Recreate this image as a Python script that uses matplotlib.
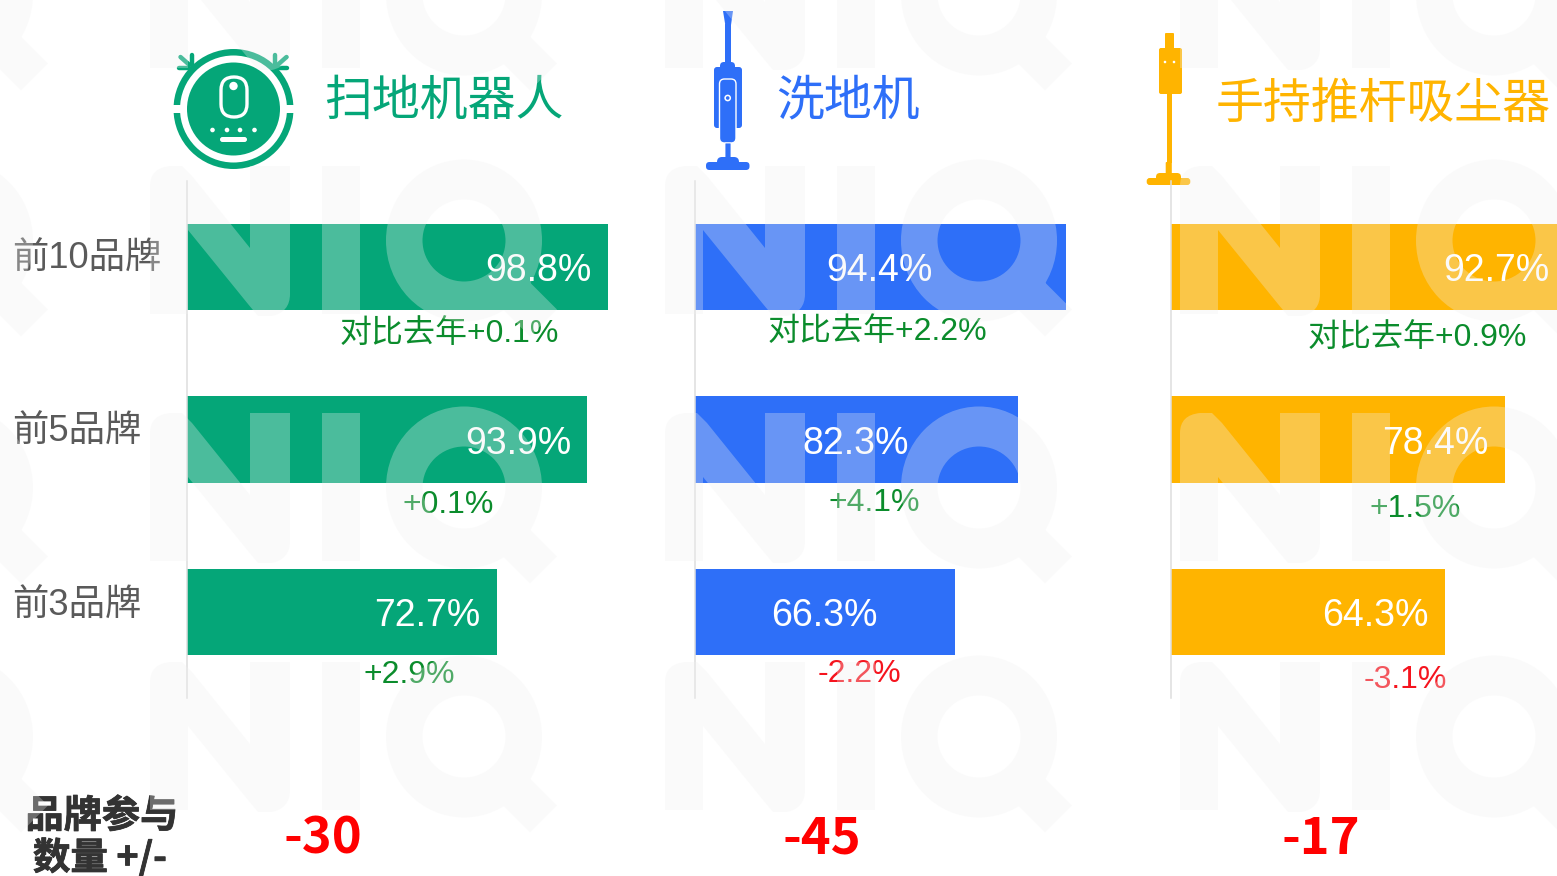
import matplotlib
matplotlib.use('Agg')
import matplotlib.pyplot as plt
import matplotlib.patheffects as pe
import numpy as np
from matplotlib.patches import Circle, FancyBboxPatch, PathPatch, Rectangle
from matplotlib.path import Path
from matplotlib.transforms import Affine2D

plt.rcParams['font.family'] = ['Liberation Sans', 'Noto Sans CJK SC', 'DejaVu Sans']

# data
categories = ['前10品牌', '前5品牌', '前3品牌']
products = ['扫地机器人', '洗地机', '手持推杆吸尘器']
robot_share = [98.8, 93.9, 72.7]
washer_share = [94.4, 82.3, 66.3]
stick_share = [92.7, 78.4, 64.3]
robot_delta = ['对比去年+0.1%', '+0.1%', '+2.9%']
washer_delta = ['对比去年+2.2%', '+4.1%', '-2.2%']
stick_delta = ['对比去年+0.9%', '+1.5%', '-3.1%']
brand_change = ['-30', '-45', '-17']

GREEN = '#05A678'
BLUE = '#2E6FF8'
YELLOW = '#FFB400'
UP = '#0B8C2C'
DOWN = '#F5141E'
W, H = 1557, 876

fig = plt.figure(figsize=(W / 100, H / 100), dpi=100, facecolor='white')

# full size axes in pixels, for icons
under = fig.add_axes([0, 0, 1, 1], zorder=0)
under.set_xlim(0, W)
under.set_ylim(H, 0)
under.axis('off')

# axes left, axes width, px per percent
panels = [(187, 440, 4.26), (695, 420, 3.925), (1171, 386, 4.26)]
shares = [robot_share, washer_share, stick_share]
colors = [GREEN, BLUE, YELLOW]
deltas = [robot_delta, washer_delta, stick_delta]
# where value labels end, px left of the bar end
label_gap = [[16, 16, 16], [133, 109, 78], [16, 16, 16]]
delta_x = [[449.5, 448, 409], [877, 874, 859], [1417, 1415, 1405]]
delta_y = [[335, 505, 675], [333, 503, 674], [339, 509, 680]]

for p, (x0, w, scale) in enumerate(panels):
    ax = fig.add_axes([x0 / W, 1 - 698 / H, w / W, 517 / H], zorder=1)
    ax.patch.set_alpha(0)
    ax.barh(range(3), shares[p], height=0.5, color=colors[p], linewidth=0)
    ax.set_xlim(0, w / scale)
    ax.set_ylim(2.5, -0.5)
    ax.set_xticks([])
    ax.set_yticks([])
    for s in ['top', 'right', 'bottom']:
        ax.spines[s].set_visible(False)
    ax.spines['left'].set_color('#DEDEDE')
    ax.spines['left'].set_linewidth(1.1)
    for i, v in enumerate(shares[p]):
        ax.annotate('{0:.1f}%'.format(v), xy=(v, i), xytext=(-label_gap[p][i], 0),
                    textcoords='offset pixels', ha='right', va='center_baseline',
                    color='white', fontsize=27, annotation_clip=False)
        delta_color = DOWN if deltas[p][i].startswith('-') else UP
        fig.text(delta_x[p][i] / W, 1 - delta_y[p][i] / H, deltas[p][i], ha='center',
                 va='center', color=delta_color, fontsize=23, zorder=5)

# left labels
for i, c in enumerate(categories):
    fig.text(12 / W, 1 - [259, 432, 606][i] / H, c, ha='left', va='center',
             color='#5A5A5A', fontsize=26.2)

# headers
fig.text(324 / W, 1 - 102 / H, products[0], color=GREEN, fontsize=34.5, ha='left', va='center')
fig.text(776 / W, 1 - 102 / H, products[1], color=BLUE, fontsize=34.5, ha='left', va='center')
fig.text(1216 / W, 1 - 105 / H, products[2], color=YELLOW, fontsize=34.5, ha='left', va='center')

# bottom row, the reference text is drawn heavier than plain bold
heavy = [pe.withStroke(linewidth=0.6, foreground='#333333')]
fig.text(102 / W, 1 - 816 / H, '品牌参与', family=['Noto Sans CJK SC'], weight='bold',
         color='#333333', fontsize=27.5, ha='center', va='center', path_effects=heavy)
fig.text(100 / W, 1 - 858 / H, '数量 +/-', family=['Noto Sans CJK SC'], weight='bold',
         color='#333333', fontsize=27, ha='center', va='center', path_effects=heavy)
for x, v in zip([323, 822, 1321], brand_change):
    fig.text(x / W, 1 - 839 / H, v, family=['Noto Sans CJK SC'], weight='bold',
             color='#FF0000', fontsize=36.5, ha='center', va='center')


def rbox(x0, y0, x1, y1, r, color, **kw):
    p = FancyBboxPatch((x0 + r, y0 + r), x1 - x0 - 2 * r, y1 - y0 - 2 * r,
                       boxstyle='round,pad={0},rounding_size={0}'.format(r),
                       facecolor=color, linewidth=kw.pop('lw', 0), **kw)
    under.add_patch(p)
    return p


# robot icon
cx, cy = 233.5, 109
under.add_patch(Circle((cx, cy), 60, color=GREEN, lw=0))
under.add_patch(Circle((cx, cy), 53.5, color='white', lw=0))
under.add_patch(Circle((cx, cy), 46.5, color=GREEN, lw=0))
under.add_patch(Rectangle((172, 105), 12, 8, color='white', lw=0))
under.add_patch(Rectangle((283, 105), 12, 8, color='white', lw=0))
rbox(221, 77, 247, 117, 13, 'none', edgecolor='white', lw=2.4)
under.add_patch(Circle((cx, 86), 4.2, color='white', lw=0))
for x in [212.5, 227, 240, 254.5]:
    under.add_patch(Circle((x, 130), 2.3, color='white', lw=0))
rbox(220, 137, 247, 142, 2.5, 'white')
for sign in [-1, 1]:
    for (a, b), (c, d) in [((41.5, 55), (41.5, 65)), ((53, 57), (44, 65)), ((54, 68), (44, 68))]:
        under.plot([cx + sign * a, cx + sign * c], [b, d], color=GREEN, lw=3.2,
                   solid_capstyle='round')

# wet mop icon
washer_tip = Path([(723, 11), (733, 11), (731, 25), (725.3, 25), (723, 11)], closed=True)
under.add_patch(PathPatch(washer_tip, facecolor=BLUE, lw=0))
under.add_patch(Rectangle((725.3, 24), 5.6, 38, color=BLUE, lw=0))
rbox(720, 62, 735, 72, 4, BLUE)
rbox(714, 67, 742, 128, 3, BLUE)
rbox(719.5, 79, 736, 143, 5, BLUE, edgecolor='white', lw=1.0)
under.add_patch(Circle((727.7, 98), 2.6, facecolor=BLUE, edgecolor='white', lw=1.1))
rbox(725, 143, 731, 159, 0.5, BLUE, edgecolor='white', lw=0.6)
rbox(717, 157, 739, 168, 5, BLUE)
rbox(706, 162, 749.5, 170, 3.5, BLUE)

# stick vacuum icon
rbox(1165, 33, 1174, 50, 1, YELLOW)
rbox(1159, 48, 1182, 94, 2, YELLOW)
under.add_patch(Circle((1165, 62), 1.3, color='white', lw=0))
under.add_patch(Circle((1174, 62), 1.3, color='white', lw=0))
under.add_patch(Rectangle((1166.7, 93), 5.6, 70, color=YELLOW, lw=0))
rbox(1165.7, 162, 1171.8, 176, 1, YELLOW)
rbox(1156, 173, 1181, 182, 4, YELLOW)
rbox(1146.7, 178, 1190.3, 185, 3, YELLOW)

# NIQ watermark over everything
over = fig.add_axes([0, 0, 1, 1], zorder=10)
over.set_xlim(0, W)
over.set_ylim(H, 0)
over.axis('off')
over.patch.set_alpha(0)

M, L, C3, Z = Path.MOVETO, Path.LINETO, Path.CURVE3, Path.CLOSEPOLY


def niq_paths(x, y):
    # x, y = top left corner of the N
    n = Path([(x, y + 148), (x, y + 20), (x, y + 2), (x + 20, y), (x + 32, y), (x + 42, y + 10),
              (x + 100, y + 82), (x + 100, y), (x + 140, y), (x + 140, y + 128),
              (x + 140, y + 146), (x + 122, y + 150), (x + 108, y + 150), (x + 98, y + 138),
              (x + 38, y + 64), (x + 38, y + 148), (x, y + 148), (x, y + 148)],
             [M, L, C3, C3, L, L, L, L, L, L, C3, C3, L, L, L, L, L, Z])
    i = Path.unit_rectangle().transformed(Affine2D().scale(38, 148).translate(x + 172, y))
    qx, qy = x + 314, y + 74.5
    outer = Path.unit_circle().transformed(Affine2D().scale(78, 81).translate(qx, qy))
    inner = Path.unit_circle().transformed(Affine2D().scale(41.5, 41).translate(qx, qy))
    # reverse the hole so it is cut out
    rev = inner.vertices[:-1][::-1]
    inner = Path(np.vstack([rev, rev[0]]), outer.codes)
    tail = Path([(qx + 54, qy + 30), (qx + 93, qy + 69), (qx + 66, qy + 96), (qx + 27, qy + 57),
                 (qx + 54, qy + 30)], [M, L, L, L, Z])
    return Path.make_compound_path(n, i, outer, inner, tail)


for ty in [-80, 166, 413, 662]:
    for tx in [-359, 150, 665, 1180]:
        over.add_patch(PathPatch(niq_paths(tx, ty), facecolor=(240 / 255, 240 / 255, 240 / 255, 0.3),
                                 edgecolor='none', lw=0))

fig.savefig('out.png', dpi=100)
